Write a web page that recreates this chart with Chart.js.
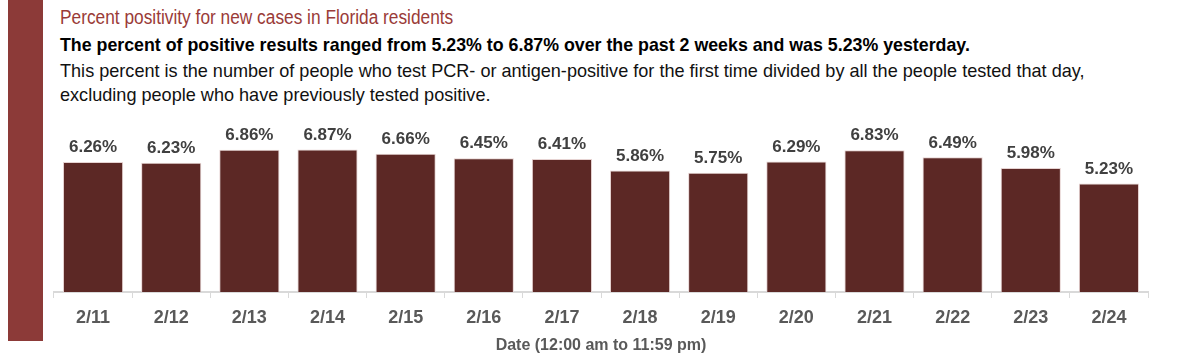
<!DOCTYPE html>
<html>
<head>
<meta charset="utf-8">
<script src="https://cdn.jsdelivr.net/npm/chart.js@4"></script>
<style>
  html, body { margin:0; padding:0; background:#fff; }
  #wrap { position:relative; width:1200px; height:357px; overflow:hidden; }
  #side { position:absolute; left:8px; top:0; width:35px; height:341px; background:#8c3a38; }
  .t { position:absolute; left:60px; white-space:nowrap; font-family:"Liberation Sans",Arial,sans-serif; transform-origin:0 0; }
  #title { top:6px; font-size:20px; color:#9a3b38; transform:scaleX(0.865); }
  #sub { top:35px; font-size:17.8px; font-weight:bold; color:#000; }
  #l1 { top:61px; font-size:18.1px; color:#111; }
  #l2 { top:85px; font-size:18.1px; color:#111; }
  #c { position:absolute; left:0; top:0; }
</style>
</head>
<body>
<div id="wrap">
  <div id="side"></div>
  <div class="t" id="title">Percent positivity for new cases in Florida residents</div>
  <div class="t" id="sub">The percent of positive results ranged from 5.23% to 6.87% over the past 2 weeks and was 5.23% yesterday.</div>
  <div class="t" id="l1">This percent is the number of people who test PCR- or antigen-positive for the first time divided by all the people tested that day,</div>
  <div class="t" id="l2">excluding people who have previously tested positive.</div>
  <canvas id="c" width="1200" height="357"></canvas>
</div>
<script>
const dates = ["2/11","2/12","2/13","2/14","2/15","2/16","2/17","2/18","2/19","2/20","2/21","2/22","2/23","2/24"];
const positivity = [6.26,6.23,6.86,6.87,6.66,6.45,6.41,5.86,5.75,6.29,6.83,6.49,5.98,5.23];
const yMin = 0;
const yMax = 8;
const xTitle = "Date (12:00 am to 11:59 pm)";

const FONT = "'Liberation Sans',Arial,sans-serif";

const labelPlugin = {
  id: 'barLabels',
  afterDatasetsDraw(chart) {
    const ctx = chart.ctx;
    const meta = chart.getDatasetMeta(0);
    ctx.save();
    ctx.font = "bold 17px " + FONT;
    ctx.fillStyle = "#404040";
    ctx.textAlign = "center";
    ctx.textBaseline = "bottom";
    meta.data.forEach((bar, i) => {
      ctx.fillText(positivity[i].toFixed(2) + "%", bar.x, bar.y - 6);
    });
    ctx.restore();
  }
};

new Chart(document.getElementById('c'), {
  type: 'bar',
  data: {
    labels: dates,
    datasets: [{
      data: positivity,
      backgroundColor: '#5c2825',
      borderColor: '#e6d3d2',
      borderWidth: 1,
      categoryPercentage: 1,
      barPercentage: 0.77
    }]
  },
  options: {
    responsive: false,
    animation: false,
    layout: { padding: { left: 54, right: 52, top: 126, bottom: 0 } },
    plugins: { legend: { display: false }, tooltip: { enabled: false } },
    scales: {
      x: {
        offset: true,
        afterFit(scale) { scale.height = 65; },
        grid: { display: true, offset: true, drawOnChartArea: false, drawTicks: true, tickLength: 6, color: '#d9d9d9' },
        border: { display: true, color: '#d9d9d9', width: 2 },
        ticks: { color: '#595959', font: { family: FONT, size: 18, weight: 'bold' }, padding: 9 },
        title: { display: true, text: xTitle, color: '#595959', font: { family: FONT, size: 16, weight: 'bold' }, padding: { top: 2, bottom: 2 } }
      },
      y: {
        display: false,
        min: yMin, max: yMax
      }
    }
  },
  plugins: [labelPlugin]
});
</script>
</body>
</html>
